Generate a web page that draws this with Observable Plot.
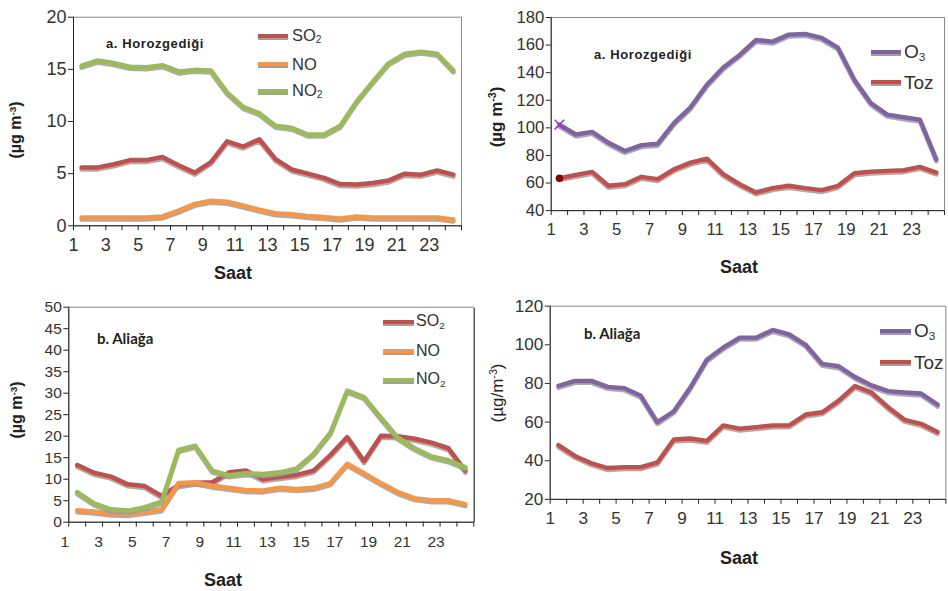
<!DOCTYPE html>
<html>
<head>
<meta charset="utf-8">
<script src="https://cdn.jsdelivr.net/npm/d3@7"></script>
<script src="https://cdn.jsdelivr.net/npm/@observablehq/plot@0.6"></script>
<style>
  html, body { margin: 0; padding: 0; background: #fff; }
  body { width: 948px; height: 591px; overflow: hidden; position: relative; font-family: "Liberation Sans", Arial, sans-serif; }
  .panel { position: absolute; }
  .ov { position: absolute; white-space: nowrap; color: #1a1a1a; line-height: 1; }
  .ttl { font-weight: bold; font-size: 13px; letter-spacing: 0.6px; transform: translateY(-50%); color: #222; }
  .ttlb { font-family: Lato, "Open Sans", sans-serif; font-weight: bold; font-size: 15px; transform: translateY(-50%); color: #222; }
  .xl { font-weight: bold; font-size: 18px; transform: translate(-50%, -50%); color: #222; }
  .yl { font-weight: bold; transform: translate(-50%, -50%) rotate(-90deg); color: #222; }
  .yl sup, .lg sub { font-size: 0.62em; }
  .yl sup { vertical-align: 0.5em; }
  .lg { transform: translateY(-50%); color: #333; }
  .lg sub { vertical-align: -0.25em; }
  .sw { position: absolute; height: 4px; box-shadow: 0 2px 0 #a0a0a0; transform: translateY(-50%); }
</style>
</head>
<body>
<script>
// ---------- data ----------
const hours = [1, 2, 3, 4, 5, 6, 7, 8, 9, 10, 11, 12, 13, 14, 15, 16, 17, 18, 19, 20, 21, 22, 23, 24];
const xTickLabels = [1, 3, 5, 7, 9, 11, 13, 15, 17, 19, 21, 23];

// a. Horozgediği
const so2A = [5.6, 5.6, 5.9, 6.3, 6.3, 6.6, 5.8, 5.1, 6.1, 8.1, 7.6, 8.3, 6.4, 5.4, 5.0, 4.6, 4.0, 3.95, 4.1, 4.35, 5.0, 4.9, 5.3, 4.9];
const noA  = [0.8, 0.8, 0.8, 0.8, 0.8, 0.9, 1.45, 2.1, 2.4, 2.3, 1.95, 1.55, 1.2, 1.1, 0.95, 0.85, 0.7, 0.9, 0.8, 0.8, 0.8, 0.8, 0.8, 0.6];
const no2A = [15.35, 15.85, 15.6, 15.25, 15.2, 15.4, 14.8, 14.95, 14.9, 12.8, 11.4, 10.8, 9.6, 9.4, 8.75, 8.75, 9.6, 11.9, 13.8, 15.6, 16.5, 16.7, 16.5, 14.9];
const o3A  = [102.4, 95.2, 97.1, 89.2, 83.2, 87.5, 88.5, 103.6, 114.9, 131.2, 143.7, 152.9, 163.7, 162.5, 167.6, 168.1, 165.3, 158.1, 134.8, 118.0, 109.6, 107.7, 106.0, 77.2];
const tozA = [63.5, 65.9, 68.1, 58.0, 59.2, 64.5, 62.8, 70.0, 74.8, 77.7, 66.4, 59.2, 53.2, 56.3, 58.0, 56.3, 54.9, 58.0, 67.1, 68.3, 68.8, 69.3, 71.7, 67.6];

// b. Aliağa
const so2B = [13.3, 11.5, 10.6, 8.8, 8.4, 6.1, 8.6, 9.2, 9.3, 11.6, 12.0, 10.0, 10.5, 11.0, 12.0, 15.6, 19.8, 14.2, 20.1, 20.0, 19.4, 18.5, 17.2, 12.0];
const noB  = [2.8, 2.5, 2.0, 1.9, 2.4, 3.0, 9.1, 9.3, 8.5, 8.0, 7.5, 7.4, 8.0, 7.7, 8.0, 9.1, 13.6, 11.4, 9.1, 7.0, 5.6, 5.1, 5.1, 4.2];
const no2B = [7.0, 4.4, 3.0, 2.7, 3.5, 4.8, 16.8, 17.8, 12.0, 10.9, 11.4, 11.2, 11.6, 12.5, 15.9, 20.8, 30.6, 29.1, 24.3, 19.7, 17.2, 15.3, 14.4, 12.8];
const o3B  = [78.7, 81.3, 81.3, 78.2, 77.5, 73.6, 60.0, 65.6, 77.9, 92.3, 98.6, 103.7, 103.7, 107.7, 105.4, 100.0, 90.1, 88.9, 83.3, 79.0, 76.0, 75.3, 74.8, 69.0];
const tozB = [48.1, 42.5, 38.7, 36.2, 36.7, 36.7, 39.1, 51.0, 51.5, 50.3, 58.3, 56.6, 57.4, 58.3, 58.3, 63.9, 65.1, 71.1, 78.7, 75.3, 67.7, 61.2, 59.1, 54.9];

const yTicksA1 = [0, 5, 10, 15, 20];
const yTicksA2 = [40, 60, 80, 100, 120, 140, 160, 180];
const yTicksB1 = [0, 5, 10, 15, 20, 25, 30, 35, 40, 45, 50];
const yTicksB2 = [20, 40, 60, 80, 100, 120];

const C = { so2: "#c0504d", no: "#f79646", no2: "#9bbb59", o3: "#8064a2", toz: "#c0504d" };

function rows(values) { return hours.map((h, i) => ({ hour: h, value: values[i] })); }

function panel(cfg) {
  const boundaries = hours.map(h => h - 0.5).concat([hours[hours.length - 1] + 0.5]);
  const labelPos = xTickLabels.map(v => v - 0.5);
  const marks = [Plot.frame({ stroke: "#8a8a8a", strokeWidth: 1 })];
  for (const s of cfg.series) {
    const d = rows(s.values);
    marks.push(Plot.lineY(d, { x: "hour", y: "value", stroke: "#9c9c9c", strokeWidth: 4.5, dy: 2, strokeOpacity: 0.85, strokeLinejoin: "round" }));
    marks.push(Plot.lineY(d, { x: "hour", y: "value", stroke: s.color, strokeWidth: 4.5, strokeLinejoin: "round" }));
    if (s.marker === "times") marks.push(Plot.dot(d, Plot.selectFirst({ x: "hour", y: "value", symbol: "times", stroke: "#9b3bc4", strokeWidth: 1.6, r: 4.5 })));
    if (s.marker === "dot") marks.push(Plot.dot(d, Plot.selectFirst({ x: "hour", y: "value", fill: "#7d0a0a", r: 3.8 })));
  }
  marks.push(
    Plot.ruleX([boundaries[0]], { stroke: "#222", strokeWidth: 1 }),
    Plot.ruleY([cfg.yDomain[0]], { stroke: "#222", strokeWidth: 1 }),
    Plot.axisY({ ticks: cfg.yTicks, tickSize: 5, tickPadding: 2, fontSize: cfg.fs, tickFormat: d => String(d), label: null, stroke: "#222", fill: "#333" }),
    Plot.axisX({ ticks: boundaries, tickSize: 5, tickFormat: () => "", label: null, stroke: "#222" }),
    Plot.axisX({ ticks: labelPos, tickSize: 0, tickPadding: cfg.xPad, dx: cfg.xDx || 0, fontSize: cfg.fs, tickFormat: d => String(d + 0.5), label: null, fill: "#333" })
  );
  const p = Plot.plot({
    width: cfg.width, height: cfg.height,
    marginTop: cfg.m[0], marginRight: cfg.m[1], marginBottom: cfg.m[2], marginLeft: cfg.m[3],
    style: { fontFamily: "'Liberation Sans', Arial, sans-serif", background: "transparent", overflow: "visible" },
    x: { type: "linear", domain: [boundaries[0], boundaries[boundaries.length - 1]], axis: null },
    y: { domain: cfg.yDomain, axis: null },
    marks
  });
  const div = document.createElement("div");
  div.className = "panel";
  div.style.left = cfg.left + "px";
  div.style.top = cfg.top + "px";
  div.appendChild(p);
  document.body.appendChild(div);
}

panel({ left: 0, top: 0, width: 474, height: 290, m: [16.7, 13, 64.7, 73], yDomain: [0, 20], yTicks: yTicksA1, fs: 18, xPad: 12,
  series: [{ values: so2A, color: C.so2 }, { values: noA, color: C.no }, { values: no2A, color: C.no2 }] });
panel({ left: 474, top: 0, width: 482, height: 290, m: [17.3, 4, 76.3, 78], yDomain: [40, 180], yTicks: yTicksA2, fs: 17, xPad: 13,
  series: [{ values: o3A, color: C.o3, marker: "times" }, { values: tozA, color: C.toz, marker: "dot" }] });
panel({ left: 0, top: 290, width: 476, height: 301, m: [16.7, 2.7, 69.3, 68.3], yDomain: [0, 50], yTicks: yTicksB1, fs: 15.5, xPad: 14, xDx: -4,
  series: [{ values: so2B, color: C.so2 }, { values: noB, color: C.no }, { values: no2B, color: C.no2 }] });
panel({ left: 474, top: 290, width: 484, height: 301, m: [16, 2.7, 87.7, 77.3], yDomain: [20, 120], yTicks: yTicksB2, fs: 17.5, xPad: 13,
  series: [{ values: o3B, color: C.o3 }, { values: tozB, color: C.toz }] });

// ---------- overlay text: titles, legends, axis titles ----------
function ov(cls, html, x, y, extra) {
  const el = document.createElement("div");
  el.className = "ov " + cls;
  el.innerHTML = html;
  el.style.left = x + "px";
  el.style.top = y + "px";
  if (extra) Object.assign(el.style, extra);
  document.body.appendChild(el);
}
function sw(color, x, y, w) {
  const el = document.createElement("div");
  el.className = "sw";
  el.style.left = x + "px"; el.style.top = y + "px"; el.style.width = w + "px"; el.style.background = color;
  document.body.appendChild(el);
}

ov("ttl", "a. Horozgediği", 106, 43);
ov("ttl", "a. Horozgediği", 594, 54);
ov("ttlb", "b. Aliağa", 97, 338);
ov("ttlb", "b. Aliağa", 584, 333);

ov("xl", "Saat", 233, 273);
ov("xl", "Saat", 739, 267);
ov("xl", "Saat", 223, 580);
ov("xl", "Saat", 739, 558);

ov("yl", "(µg m<sup>-3</sup>)", 16, 130, { fontSize: "16px" });
ov("yl", "(µg m<sup>-3</sup>)", 496, 117, { fontSize: "17px" });
ov("yl", "(µg m<sup>-3</sup>)", 17, 410, { fontSize: "16px" });
ov("yl", "(µg/m<sup>-3</sup>)", 497, 393, { fontSize: "17px", fontWeight: "normal" });

// legends
const legA = [["SO<sub>2</sub>", C.so2, 36], ["NO", C.no, 64], ["NO<sub>2</sub>", C.no2, 91]];
legA.forEach(([t, c, y]) => { sw(c, 258, y, 30); ov("lg", t, 292, y, { fontSize: "16.5px" }); });
const legA2 = [["O<sub>3</sub>", C.o3, 52], ["Toz", C.toz, 82]];
legA2.forEach(([t, c, y]) => { sw(c, 871, y, 30); ov("lg", t, 904, y, { fontSize: "19px" }); });
const legB = [["SO<sub>2</sub>", C.so2, 322], ["NO", C.no, 351], ["NO<sub>2</sub>", C.no2, 380]];
legB.forEach(([t, c, y]) => { sw(c, 383, y, 31); ov("lg", t, 416, y, { fontSize: "16px" }); });
const legB2 = [["O<sub>3</sub>", C.o3, 331], ["Toz", C.toz, 362]];
legB2.forEach(([t, c, y]) => { sw(c, 880, y, 31); ov("lg", t, 914, y, { fontSize: "19px" }); });

// thin divider at the left of the lower-right panel
const dv = document.createElement("div");
Object.assign(dv.style, { position: "absolute", left: "474px", top: "308px", width: "1px", height: "214px", background: "#555" });
document.body.appendChild(dv);
</script>
</body>
</html>
